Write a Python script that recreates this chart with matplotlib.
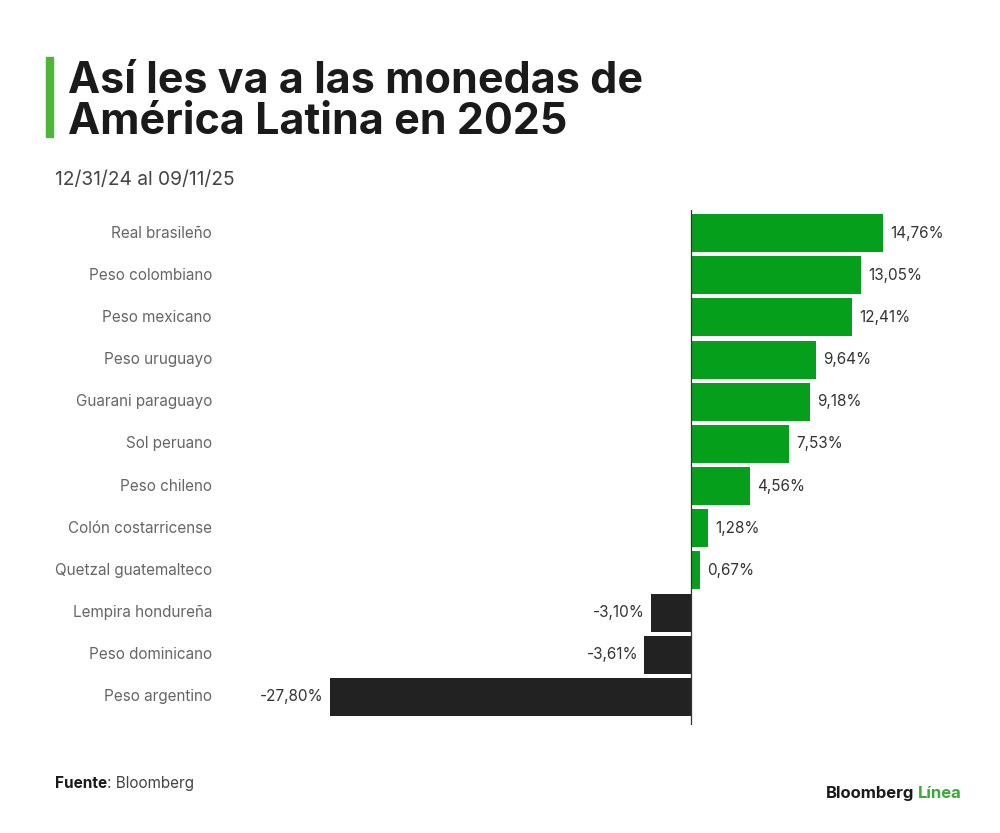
import matplotlib.pyplot as plt
from matplotlib.transforms import blended_transform_factory

categories = ['Real brasileño', 'Peso colombiano', 'Peso mexicano', 'Peso uruguayo',
              'Guarani paraguayo', 'Sol peruano', 'Peso chileno', 'Colón costarricense',
              'Quetzal guatemalteco', 'Lempira hondureña', 'Peso dominicano', 'Peso argentino']
values = [14.76, 13.05, 12.41, 9.64, 9.18, 7.53, 4.56, 1.28, 0.67, -3.10, -3.61, -27.80]

GREEN = '#069f1c'
DARK = '#222222'
FONT = 'Inter'

W, H = 1000, 833
fig = plt.figure(figsize=(W / 100, H / 100), dpi=100)

# axes placed in pixel coords: x 300..960, y 210..725
px_left, px_right, px_top, px_bot = 300, 960, 210, 725
ax = fig.add_axes([px_left / W, 1 - px_bot / H, (px_right - px_left) / W, (px_bot - px_top) / H])

scale = 13.0  # px per percent
zero_px = 691
ax.set_xlim(-(zero_px - px_left) / scale, (px_right - zero_px) / scale)
step = 42.18
ax.set_ylim(11 + (px_bot - 697) / step, -(233 - px_top) / step)

y = list(range(len(values)))
colors = [GREEN if v >= 0 else DARK for v in values]
ax.barh(y, values, height=0.9, color=colors, zorder=2)
ax.axvline(0, color='#333333', lw=0.9, zorder=3)

for yi, v in zip(y, values):
    txt = '{:.2f}%'.format(v).replace('.', ',')
    if v >= 0:
        ax.text(v + 0.55, yi, txt, va='center', ha='left', fontsize=11, color='#333333', family=FONT)
    else:
        ax.text(v - 0.45, yi, txt, va='center', ha='right', fontsize=11, color='#333333', family=FONT)

# category labels right-aligned at x ~ 212 px
trans = blended_transform_factory(fig.transFigure, ax.transData)
for yi, c in zip(y, categories):
    ax.text(212 / W, yi, c, transform=trans, ha='right', va='center', fontsize=11,
            color='#666666', family=FONT)

ax.set_xticks([])
ax.set_yticks([])
for s in ax.spines.values():
    s.set_visible(False)

# title block
fig.patches.append(plt.Rectangle((46 / W, 1 - 137 / H), 7 / W, 80 / H, transform=fig.transFigure,
                                 color='#4cb53a', zorder=5))
fig.text(68 / W, 1 - 93 / H, 'Así les va a las monedas de', fontsize=31, fontweight='bold',
         color='#1a1a1a', family=FONT, va='baseline')
fig.text(68 / W, 1 - 134 / H, 'América Latina en 2025', fontsize=31, fontweight='bold',
         color='#1a1a1a', family=FONT, va='baseline')
fig.text(55 / W, 1 - 185 / H, '12/31/24 al 09/11/25', fontsize=13.8, color='#444444',
         family=FONT, va='baseline')

# footer
t = fig.text(55 / W, 1 - 788 / H, 'Fuente', fontsize=11, fontweight='bold', color='#1a1a1a',
             family=FONT, va='baseline')
fig.canvas.draw()
bb = t.get_window_extent()
fig.text(bb.x1 / W, 1 - 788 / H, ': Bloomberg', fontsize=11, color='#444444', family=FONT,
         va='baseline')

t2 = fig.text(962 / W, 1 - 798 / H, 'Línea', fontsize=12, fontweight='bold', color='#3aaa35',
              family=FONT, va='baseline', ha='right')
fig.canvas.draw()
bb2 = t2.get_window_extent()
fig.text(bb2.x0 / W - 4 / W, 1 - 798 / H, 'Bloomberg', fontsize=12, fontweight='bold',
         color='#1a1a1a', family=FONT, va='baseline', ha='right')

fig.savefig('out.png', dpi=100, facecolor='white')
